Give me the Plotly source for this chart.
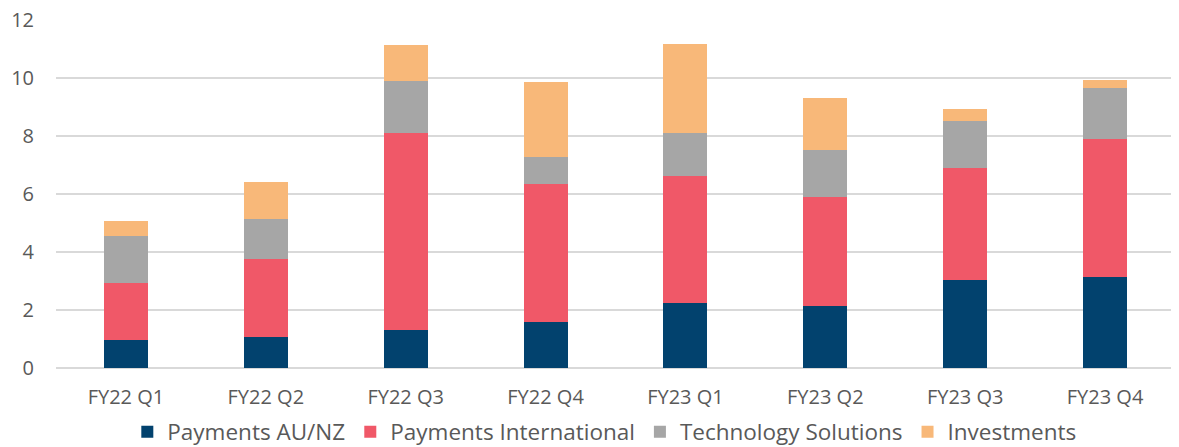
import plotly.graph_objects as go

categories = ["FY22 Q1", "FY22 Q2", "FY22 Q3", "FY22 Q4", "FY23 Q1", "FY23 Q2", "FY23 Q3", "FY23 Q4"]
payments_au_nz = [0.98, 1.07, 1.32, 1.57, 2.24, 2.15, 3.03, 3.15]
payments_international = [1.96, 2.69, 6.78, 4.79, 4.39, 3.76, 3.87, 4.74]
technology_solutions = [1.62, 1.39, 1.79, 0.93, 1.47, 1.60, 1.63, 1.77]
investments = [0.51, 1.27, 1.24, 2.56, 3.07, 1.79, 0.40, 0.26]
y_ticks = [0, 2, 4, 6, 8, 10, 12]

series = [
    ("Payments AU/NZ", payments_au_nz, "#02426E"),
    ("Payments International", payments_international, "#F05868"),
    ("Technology Solutions", technology_solutions, "#A6A6A6"),
    ("Investments", investments, "#F8B879"),
]

FONT = "Open Sans"
TXT = "#595959"

fig = go.Figure()
for name, vals, col in series:
    fig.add_trace(go.Bar(
        name=name, x=categories, y=vals,
        marker=dict(color=col, line=dict(width=0)),
    ))

fig.update_layout(
    barmode="stack",
    bargap=0.686,
    width=1179, height=447,
    margin=dict(l=48, r=12, t=12, b=87, autoexpand=False),
    paper_bgcolor="white",
    plot_bgcolor="white",
    font=dict(family=FONT, size=19, color=TXT),
    showlegend=True,
    legend=dict(
        orientation="h",
        x=0.49, xanchor="center",
        y=-0.184, yanchor="middle",
        font=dict(family=FONT, size=22.5, color=TXT),
        traceorder="normal",
        itemwidth=30,
    ),
    xaxis=dict(
        showgrid=False,
        showline=False,
        ticks="",
        tickfont=dict(family=FONT, size=20, color=TXT),
        ticklabelstandoff=15,
    ),
    yaxis=dict(
        range=[0, 12.0001],
        tickvals=y_ticks,
        showgrid=True,
        gridcolor="#D9D9D9",
        gridwidth=1.5,
        zeroline=True,
        zerolinecolor="#D9D9D9",
        zerolinewidth=1.5,
        showline=False,
        ticks="",
        tickfont=dict(family=FONT, size=20, color=TXT),
        ticklabelstandoff=21,
        ticklabeloverflow="allow",
    ),
)

fig.write_html("out.html")
